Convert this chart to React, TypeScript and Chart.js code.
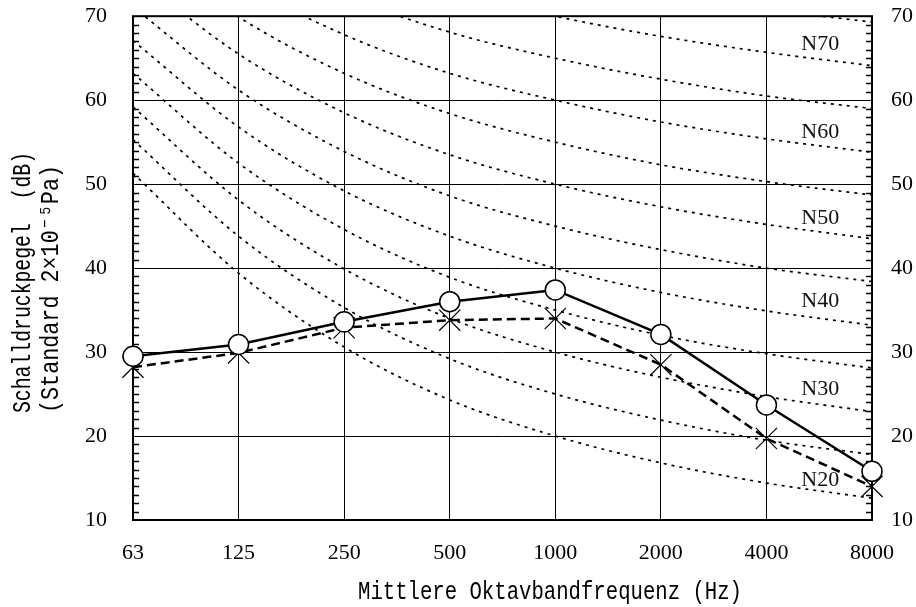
import React, { useEffect, useRef } from 'react';
import { Chart, registerables } from 'chart.js';

Chart.register(...registerables);

// ---- data ----
const frequencies = ['63', '125', '250', '500', '1000', '2000', '4000', '8000'];
const measuredSolid = [29.5, 30.9, 33.6, 36.0, 37.4, 32.1, 23.7, 15.8];
const measuredDashed = [28.2, 29.9, 32.9, 33.8, 34.0, 28.5, 19.7, 14.0];

const curveN20 = [51.3, 39.4, 30.6, 24.3, 20, 16.8, 14.4, 12.6];
const curveN25 = [55.3, 43.8, 35.3, 29.2, 25, 21.9, 19.5, 17.8];
const curveN30 = [59.2, 48.1, 39.9, 34.0, 30, 27.0, 24.7, 22.9];
const curveN35 = [63.2, 52.5, 44.6, 38.9, 35, 32.0, 29.8, 28.1];
const curveN40 = [67.1, 56.8, 49.2, 43.8, 40, 37.1, 34.9, 33.2];
const curveN45 = [71.1, 61.2, 53.9, 48.6, 45, 42.2, 40.0, 38.4];
const curveN50 = [75.0, 65.5, 58.5, 53.5, 50, 47.3, 45.2, 43.5];
const curveN55 = [79.0, 69.9, 63.2, 58.4, 55, 52.3, 50.3, 48.7];
const curveN60 = [82.9, 74.2, 67.8, 63.2, 60, 57.4, 55.4, 53.8];
const curveN65 = [86.9, 78.6, 72.5, 68.1, 65, 62.5, 60.5, 59.0];
const curveN70 = [90.8, 82.9, 77.1, 73.0, 70, 67.6, 65.7, 64.1];
const curveN75 = [94.8, 87.3, 81.8, 77.9, 75, 72.6, 70.8, 69.3];
const nCurves = [curveN20, curveN25, curveN30, curveN35, curveN40, curveN45, curveN50, curveN55, curveN60, curveN65, curveN70, curveN75];

const nLabelTexts = ['N70', 'N60', 'N50', 'N40', 'N30', 'N20'];
const nLabelValues = [66.7, 56.2, 46.0, 36.0, 25.6, 14.7];
const nLabelCategoryPos = 6.51;

const yMin = 10;
const yMax = 70;
const yStep = 10;

const xTitle = 'Mittlere Oktavbandfrequenz (Hz)';
const yTitleLines = ['Schalldruckpegel  (dB)', '(Standard 2×10⁻⁵Pa)'];

const SERIF = '"Liberation Serif", "Times New Roman", serif';
const MONO = '"Liberation Mono", "DejaVu Sans Mono", monospace';

function drawCompressed(ctx: CanvasRenderingContext2D, text: string, x: number, y: number, targetWidth: number, rotate: boolean, align: CanvasTextAlign) {
  ctx.save();
  ctx.translate(x, y);
  if (rotate) ctx.rotate(-Math.PI / 2);
  const w = ctx.measureText(text).width;
  const sx = targetWidth / w;
  ctx.scale(sx, 1);
  ctx.textAlign = align;
  ctx.textBaseline = 'middle';
  ctx.fillText(text, 0, 0);
  ctx.restore();
}

const decorPlugin = {
  id: 'decor',
  beforeDatasetsDraw(chart: any) {
    const { ctx, chartArea: a, scales } = chart;
    const y = scales.y;
    const x = scales.x;
    ctx.save();
    ctx.strokeStyle = '#000';
    ctx.lineWidth = 1.3;
    for (let v = yMin; v <= yMax; v++) {
      if (v % yStep === 0) continue;
      const py = Math.round(y.getPixelForValue(v)) + 0.5;
      ctx.beginPath();
      ctx.moveTo(a.left, py);
      ctx.lineTo(a.left + 6, py);
      ctx.moveTo(a.right - 6, py);
      ctx.lineTo(a.right, py);
      ctx.stroke();
    }
    ctx.lineWidth = 2;
    ctx.strokeRect(a.left, a.top, a.right - a.left, a.bottom - a.top);
    ctx.fillStyle = '#111';
    ctx.font = '22px ' + SERIF;
    ctx.textAlign = 'center';
    ctx.textBaseline = 'middle';
    const px = x.getPixelForValue(nLabelCategoryPos);
    nLabelTexts.forEach((t, i) => {
      ctx.fillText(t, px, y.getPixelForValue(nLabelValues[i]));
    });
    ctx.restore();
  },
  afterDraw(chart: any) {
    const { ctx } = chart;
    ctx.save();
    ctx.fillStyle = '#000';
    ctx.font = '26px ' + MONO;
    drawCompressed(ctx, yTitleLines[0], 23, 413, 261, true, 'left');
    drawCompressed(ctx, yTitleLines[1], 51, 413, 248, true, 'left');
    drawCompressed(ctx, xTitle, 550, 592, 384, false, 'center');
    ctx.restore();
  },
};

export default function App() {
  const ref = useRef<HTMLCanvasElement>(null);
  useEffect(() => {
    document.body.style.margin = '0';
    const canvas = ref.current;
    if (!canvas) return;
    const curveSets = nCurves.map((c) => ({
      data: c,
      borderColor: '#000',
      borderWidth: 1.7,
      borderDash: [3, 5],
      pointRadius: 0,
      cubicInterpolationMode: 'monotone' as const,
      fill: false,
    }));
    const chart = new Chart(canvas, {
      type: 'line',
      data: {
        labels: frequencies,
        datasets: [
          {
            data: measuredSolid,
            borderColor: '#000',
            borderWidth: 2.5,
            pointStyle: 'circle',
            pointRadius: 10,
            pointBackgroundColor: '#fff',
            pointBorderColor: '#000',
            pointBorderWidth: 1.5,
            tension: 0,
          },
          {
            data: measuredDashed,
            borderColor: '#000',
            borderWidth: 2.5,
            borderDash: [9, 5],
            pointStyle: 'crossRot',
            pointRadius: 15,
            pointBorderColor: '#000',
            pointBorderWidth: 1.2,
            tension: 0,
          },
          ...curveSets,
        ],
      },
      options: {
        animation: false,
        responsive: false,
        events: [],
        layout: { padding: { left: 0, right: 0, top: 15.5, bottom: 0 } },
        plugins: { legend: { display: false }, tooltip: { enabled: false } },
        scales: {
          x: {
            type: 'category',
            offset: false,
            grid: { color: '#000', lineWidth: 1, drawTicks: false },
            border: { display: false },
            ticks: {
              color: '#000',
              font: { family: SERIF, size: 22 },
              padding: 20,
              autoSkip: false,
              maxRotation: 0,
            },
            afterFit: (s: any) => { s.height = 87; },
          },
          y: {
            type: 'linear',
            position: 'left',
            min: yMin,
            max: yMax,
            grid: { color: '#000', lineWidth: 1, drawTicks: false },
            border: { display: false },
            ticks: {
              stepSize: yStep,
              color: '#000',
              font: { family: SERIF, size: 22 },
              padding: 26,
            },
            afterFit: (s: any) => { s.width = 133; s.paddingTop = 0; s.paddingBottom = 0; },
          },
          yRight: {
            type: 'linear',
            position: 'right',
            min: yMin,
            max: yMax,
            grid: { display: false, drawTicks: false },
            border: { display: false },
            ticks: {
              stepSize: yStep,
              color: '#000',
              font: { family: SERIF, size: 22 },
              padding: 19,
            },
            afterFit: (s: any) => { s.width = 44; s.paddingTop = 0; s.paddingBottom = 0; },
          },
        },
      },
      plugins: [decorPlugin],
    });
    return () => chart.destroy();
  }, []);
  return (
    <div style={{ width: 916, height: 607, background: '#fff' }}>
      <canvas ref={ref} width={916} height={607} style={{ display: 'block' }} />
    </div>
  );
}
